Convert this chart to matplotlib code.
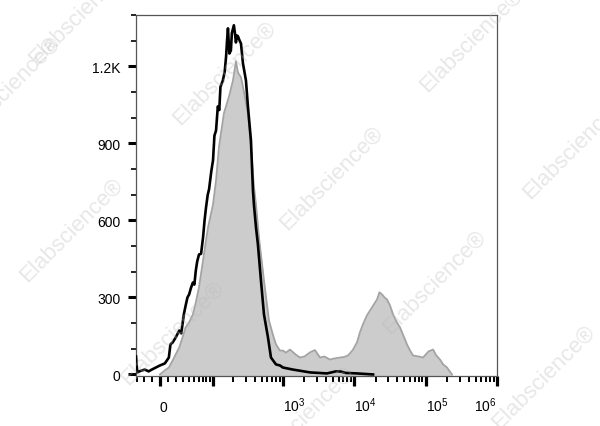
import numpy as np
import matplotlib
matplotlib.use("Agg")
import matplotlib.pyplot as plt
from matplotlib.ticker import FixedLocator, MultipleLocator

plt.rcParams['font.family'] = ['Liberation Sans', 'DejaVu Sans']
plt.rcParams['mathtext.fontset'] = 'custom'
plt.rcParams['mathtext.rm'] = 'Liberation Sans'

#==== histogram data (fluorescence value, count) ====
black_x = [-32, -30, -25, -19, -14, -10, -5, 0, 6, 11, 13, 16, 20, 25, 28, 32, 35, 38, 41, 44,
           48, 51, 54, 57, 61, 66, 71, 75, 79, 84, 88, 95, 101, 106, 112, 119, 125, 130, 141, 150,
           157, 162, 167, 175, 184, 190, 203, 210, 217, 225, 232, 245, 256, 273, 301, 321, 354, 378, 390, 417,
           444, 490, 540, 615, 677, 797, 906, 998, 1378, 2390, 4130, 5500, 6300, 7500, 10900, 18300]
black_y = [70, 8, 14, 19, 12, 19, 27, 35, 43, 66, 117, 125, 144, 171, 160, 234, 269, 300, 312, 335,
           358, 350, 405, 440, 467, 470, 534, 600, 650, 700, 721, 790, 834, 930, 950, 1044, 1030, 1120, 1145, 1180,
           1239, 1300, 1348, 1250, 1262, 1330, 1360, 1330, 1293, 1320, 1317, 1300, 1289, 1212, 1145, 1044, 912, 717, 662, 573,
           506, 366, 234, 144, 66, 39, 35, 27, 19, 8, 4, 12, 12, 6, 4, 0]

gray_x = [0, 6, 11, 16, 20, 25, 32, 35, 41, 48, 54, 61, 71, 79, 85, 101, 112, 124, 146, 173,
          197, 217, 232, 256, 273, 321, 354, 390, 417, 459, 540, 635, 740, 797, 906, 998, 1100, 1250, 1500, 1730,
          2000, 2390, 2800, 3300, 3800, 4550, 5200, 6300, 7200, 8160, 9500, 10900, 12000, 13200, 15000, 16600, 18500, 20800, 22500, 24400,
          26500, 28700, 31500, 34900, 39000, 43700, 49000, 54700, 60000, 66400, 80000, 91800, 110000, 127000, 140000, 159000, 175000, 199000, 234000]
gray_y = [0, 16, 27, 55, 78, 105, 160, 183, 203, 234, 280, 339, 444, 522, 573, 662, 756, 888, 1017, 1083,
          1145, 1220, 1176, 1157, 1122, 1017, 888, 732, 662, 534, 366, 210, 144, 117, 93, 93, 85, 97, 78, 66,
          70, 86, 95, 66, 70, 58, 62, 66, 68, 74, 95, 125, 165, 195, 230, 249, 270, 292, 320, 312,
          300, 292, 270, 234, 205, 183, 150, 117, 95, 74, 70, 66, 90, 97, 75, 58, 40, 27, 0]

x_major = [0, 100, 1000, 10000, 100000, 1000000]
x_major_labels = ['0', '', r'$\mathregular{10^{3}}$', r'$\mathregular{10^{4}}$',
                  r'$\mathregular{10^{5}}$', r'$\mathregular{10^{6}}$']
x_minor = [-30, -20, -10, 10, 20, 30, 40, 50, 60, 70, 80, 90,
           200, 300, 400, 500, 600, 700, 800, 900,
           2000, 3000, 4000, 5000, 6000, 7000, 8000, 9000,
           20000, 30000, 40000, 50000, 60000, 70000, 80000, 90000,
           200000, 300000, 400000, 500000, 600000, 700000, 800000, 900000]
y_major = [0, 300, 600, 900, 1200]
y_major_labels = ['0', '300', '600', '900', '1.2K']

# watermark centres in figure pixels
wm_x = [8, 80, 224, 471, 331, 574, 71, 172, 434, 543, 302]
wm_y = [88, 13, 73, 40, 178, 147, 230, 333, 282, 377, 418]

#==== biexponential-like axis (asinh) ====
C = 37.6
def fwd(v):
    return np.arcsinh(np.asarray(v, dtype=float) / C) / np.log(10)
def inv(v):
    return C * np.sinh(np.asarray(v, dtype=float) * np.log(10))

fig = plt.figure(figsize=(6, 4.27), dpi=100)
ax = fig.add_axes([136/600, 1-377/427, 361/600, 361/427])
ax.set_xscale('function', functions=(fwd, inv))

ymin = -6
ax.fill_between(gray_x, ymin, gray_y, color='#cccccc', lw=0, zorder=1)
ax.plot(gray_x, gray_y, color='#a3a3a3', lw=1.3, zorder=2)
ax.plot(black_x, black_y, color='black', lw=1.9, zorder=3)

ax.set_xlim(-32, 1000000)
ax.set_ylim(ymin, 1400)

ax.xaxis.set_major_locator(FixedLocator(x_major))
ax.set_xticklabels(x_major_labels)
ax.xaxis.set_minor_locator(FixedLocator(x_minor))
ax.yaxis.set_major_locator(FixedLocator(y_major))
ax.set_yticklabels(y_major_labels)
ax.yaxis.set_minor_locator(MultipleLocator(100))

ax.tick_params(axis='x', which='major', direction='out', length=7, width=2.3, pad=18, labelsize=10)
ax.tick_params(axis='x', which='minor', direction='out', length=4, width=1.4)
ax.tick_params(axis='y', which='major', direction='out', length=6, width=2.2, pad=5, labelsize=10)
ax.tick_params(axis='y', which='minor', direction='out', length=3.5, width=1.2)

# labels sit on a common baseline, left edge at the tick
labs = ax.get_xticklabels()
for lb in labs:
    lb.set_ha('left')
    lb.set_va('baseline')
labs[-1].set_ha('right')

for s in ax.spines.values():
    s.set_color('#555555')
    s.set_linewidth(0.9)

for xx, yy in zip(wm_x, wm_y):
    fig.text(xx/600, 1-yy/427, 'Elabscience\u00ae', rotation=45, ha='center', va='center',
             fontsize=16, color='#b8b8b8', alpha=0.33, zorder=10)

fig.savefig('out.png', dpi=100)
